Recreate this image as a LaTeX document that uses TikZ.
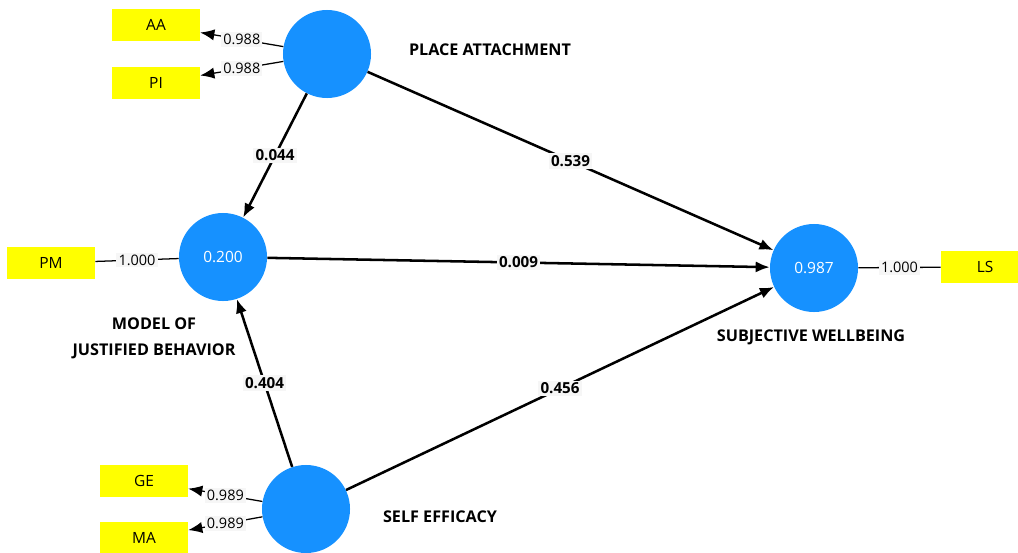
\documentclass[tikz,border=0pt]{standalone}
\usepackage{fontspec}
\setmainfont{Open Sans}
\usetikzlibrary{arrows.meta,positioning}
\tikzset{>={Latex[length=10pt,width=8pt]}}
\definecolor{latentColor}{RGB}{22,145,255}
\definecolor{itemColor}{RGB}{255,255,0}
\colorlet{tagColor}{gray!7}

\begin{document}
\begin{tikzpicture}[x=0.025cm,y=-0.025cm,
	latent/.style={circle, fill=latentColor, minimum size=2.2cm, inner sep=0pt, text=white, font=\fontsize{11}{13}\selectfont},
	item/.style={rectangle, fill=itemColor, minimum width=2.2cm, minimum height=0.82cm, inner sep=0pt, font=\fontsize{11}{13}\selectfont},
	title/.style={font=\fontsize{11.5}{18.4}\selectfont\bfseries, align=center},
	effect/.style={->, line width=1.8pt},
	load/.style={line width=0.9pt},
	coef/.style={fill=tagColor, inner sep=1.5pt, font=\fontsize{10.8}{12}\selectfont\bfseries},
	lval/.style={fill=tagColor, inner sep=1.5pt, font=\fontsize{10.3}{12}\selectfont}]
	\useasboundingbox (0,0) rectangle (1018,552);
	% constructs
	\node [latent] (pa) at (327,54) {};
	\node [latent] (mjb) at (223,257) {0.200};
	\node [latent] (se) at (306,509) {};
	\node [latent] (sw) at (814,268) {0.987};
	% indicators
	\node [item] (aa) at (156,25) {AA};
	\node [item] (pi) at (156,83) {PI};
	\node [item] (pm) at (51,263) {PM};
	\node [item] (ge) at (144,481) {GE};
	\node [item] (ma) at (144,538) {MA};
	\node [item] (ls) at (985,267) {LS};
	% construct names
	\node [title] (paName) at (490,50) {PLACE ATTACHMENT};
	\node [title] (mjbName) at (154,338) {MODEL OF\\JUSTIFIED BEHAVIOR};
	\node [title] (swName) at (811,337) {SUBJECTIVE WELLBEING};
	\node [title] (seName) at (440,517) {SELF EFFICACY};
	% outer loadings
	\draw [->, load] (pa) -- (aa) node [lval, pos=0.5] {0.988};
	\draw [->, load] (pa) -- (pi) node [lval, pos=0.5] {0.988};
	\draw [load] (pm) -- (mjb) node [lval, pos=0.5] {1.000};
	\draw [->, load] (se) -- (ge) node [lval, pos=0.5] {0.989};
	\draw [->, load] (se) -- (ma) node [lval, pos=0.5] {0.989};
	\draw [load] (sw) -- (ls) node [lval, pos=0.5] {1.000};
	% path coefficients
	\draw [effect] (pa) -- (mjb) node [coef, pos=0.5] {0.044};
	\draw [effect] (pa) -- (sw) node [coef, pos=0.5] {0.539};
	\draw [effect] (mjb) -- (sw) node [coef, pos=0.5] {0.009};
	\draw [effect] (se) -- (mjb) node [coef, pos=0.5] {0.404};
	\draw [effect] (se) -- (sw) node [coef, pos=0.5] {0.456};
\end{tikzpicture}
\end{document}
